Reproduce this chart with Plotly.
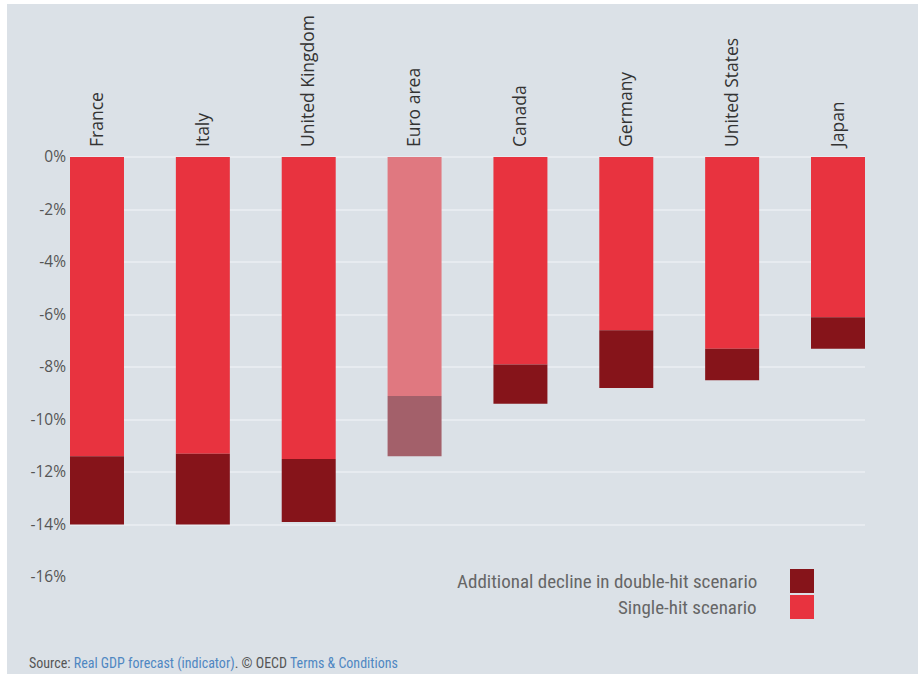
import plotly.graph_objects as go

countries = ["France", "Italy", "United Kingdom", "Euro area", "Canada", "Germany", "United States", "Japan"]
single_hit = [-11.4, -11.3, -11.5, -9.1, -7.9, -6.6, -7.3, -6.1]
additional = [-2.6, -2.7, -2.4, -2.3, -1.5, -2.2, -1.2, -1.2]
y_ticks = [0, -2, -4, -6, -8, -10, -12, -14, -16]
y_tick_labels = ["0%", "-2%", "-4%", "-6%", "-8%", "-10%", "-12%", "-14%", "-16%"]
highlight = "Euro area"

single_col = ["#e07880" if c == highlight else "#e8333f" for c in countries]
add_col = ["#a3606a" if c == highlight else "#86141a" for c in countries]

BG = "#dbe1e7"
GRID = "#e7ebf0"

fig = go.Figure()
fig.add_trace(go.Bar(x=countries, y=single_hit, name="Single-hit scenario",
                     marker=dict(color=single_col, line=dict(width=0)), showlegend=False))
fig.add_trace(go.Bar(x=countries, y=additional, name="Additional decline in double-hit scenario",
                     marker=dict(color=add_col, line=dict(width=0)), showlegend=False))

fig.update_layout(
    barmode="relative",
    bargap=0.49,
    width=918, height=674,
    margin=dict(l=70, r=53, t=157, b=97, pad=0),
    paper_bgcolor="white",
    plot_bgcolor=BG,
    font=dict(family="Open Sans", color="#444"),
    xaxis=dict(side="top", tickangle=-90, tickfont=dict(family="Open Sans", size=17.5, color="#333"),
               showgrid=False, zeroline=False, showline=False, ticks="",
               range=[-0.255, 7.255], ticklabelstandoff=9),
    yaxis=dict(range=[-16, 0], tickmode="array", tickvals=y_ticks, ticktext=y_tick_labels,
               tickfont=dict(family="Open Sans", size=15.5, color="#555"), gridcolor=GRID, gridwidth=1.5,
               zeroline=True, zerolinecolor=GRID, zerolinewidth=1.5,
               showline=False, ticks="", ticklabelstandoff=3),
)

# figure background (light grey with thin white margin at left and top)
W, H = 795.0, 420.0
def px(x): return (x - 70) / W
def py(y): return (577 - y) / H
fig.add_shape(type="rect", xref="paper", yref="paper", x0=px(7), x1=px(930), y0=py(690), y1=py(4),
              fillcolor=BG, line=dict(width=0), layer="below")

# legend (text on the left, swatches on the right)
narrow = "Liberation Sans Narrow, Roboto Condensed, Arial Narrow, sans-serif"
legend_font = dict(family=narrow, size=19, color="#666")
fig.add_annotation(xref="paper", yref="paper", x=px(759), y=py(581), xanchor="right", yanchor="middle",
                   text="Additional decline in double-hit scenario", showarrow=False, font=legend_font)
fig.add_annotation(xref="paper", yref="paper", x=px(759), y=py(607), xanchor="right", yanchor="middle",
                   text="Single-hit scenario", showarrow=False, font=legend_font)
fig.add_shape(type="rect", xref="paper", yref="paper", x0=px(790), x1=px(814), y0=py(593), y1=py(569),
              fillcolor="#86141a", line=dict(width=0))
fig.add_shape(type="rect", xref="paper", yref="paper", x0=px(790), x1=px(814), y0=py(619), y1=py(595),
              fillcolor="#e8333f", line=dict(width=0))

# source line
blue = "#4f87c2"
fig.add_annotation(xref="paper", yref="paper", x=px(27), y=py(663), xanchor="left", yanchor="middle",
                   showarrow=False,
                   font=dict(family=narrow, size=14, color="#555"),
                   text=f"Source: <span style='color:{blue}'>Real GDP forecast (indicator)</span>. © OECD "
                        f"<span style='color:{blue}'>Terms &amp; Conditions</span>")

fig.write_html("out.html", config={"displayModeBar": False},
               post_script="document.body.style.margin='0';document.body.style.overflow='hidden';")
